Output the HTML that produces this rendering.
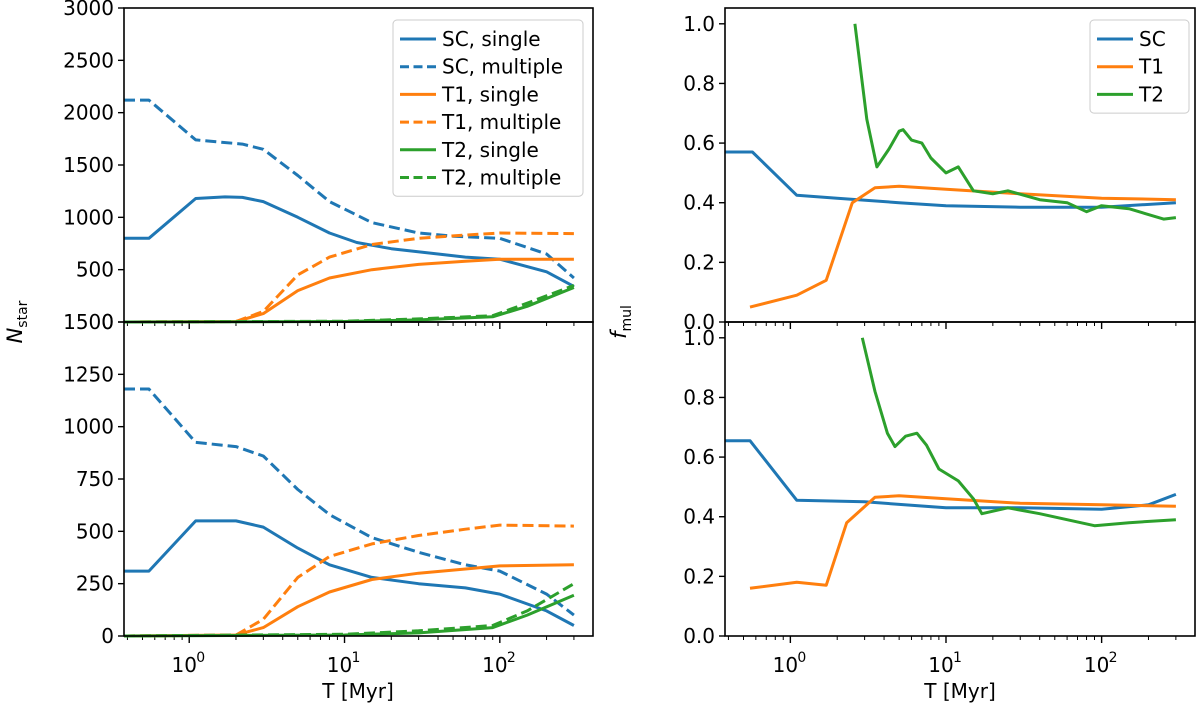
<!DOCTYPE html>
<html><head><meta charset="utf-8"><style>
body{margin:0;background:#fff}
svg{display:block;font-family:"DejaVu Sans","Liberation Sans",sans-serif}
</style></head><body>
<svg id="fig" width="1200" height="706" viewBox="0 0 1200 706"></svg>
<script>
// ---- data ----
const scSingleTopT=[0.38,0.55,1.1,1.7,2.2,3,5,8,12,20,40,60,100,200,300];
const scSingleTopN=[800,800,1180,1195,1190,1150,1000,850,760,700,650,620,600,480,340];
const scMultTopT=[0.38,0.55,1.1,2.2,3,5,8,15,30,50,100,200,300];
const scMultTopN=[2120,2120,1740,1700,1650,1400,1150,950,850,820,800,650,420];
const t1SingleTopT=[0.38,2,3,5,8,15,30,60,100,300];
const t1SingleTopN=[0,5,80,300,420,500,550,580,600,600];
const t1MultTopT=[0.38,2,3,5,8,15,30,60,100,300];
const t1MultTopN=[0,5,100,450,620,740,800,830,850,845];
const t2SingleTopT=[0.38,10,30,90,150,300];
const t2SingleTopN=[0,5,20,50,150,330];
const t2MultTopT=[0.38,10,30,90,150,300];
const t2MultTopN=[0,8,30,60,180,350];

const scSingleBotT=[0.38,0.55,1.1,2,3,5,8,15,30,60,100,200,300];
const scSingleBotN=[310,310,550,550,520,420,340,280,250,230,200,120,50];
const scMultBotT=[0.38,0.55,1.1,2,3,5,8,15,30,60,100,200,300];
const scMultBotN=[1180,1180,925,905,860,700,580,470,400,340,310,200,100];
const t1SingleBotT=[0.38,2,3,5,8,15,30,60,100,300];
const t1SingleBotN=[0,5,40,140,210,270,300,320,335,340];
const t1MultBotT=[0.38,2,3,5,8,15,30,60,100,300];
const t1MultBotN=[0,5,80,280,380,440,480,510,530,525];
const t2SingleBotT=[0.38,10,30,90,150,300];
const t2SingleBotN=[0,5,15,40,100,195];
const t2MultBotT=[0.38,10,30,90,150,300];
const t2MultBotN=[0,8,25,50,120,250];

const scFTopT=[0.38,0.57,1.1,2,5,10,30,100,300];
const scFTopV=[0.57,0.57,0.425,0.415,0.40,0.39,0.385,0.385,0.40];
const t1FTopT=[0.55,1.1,1.7,2.5,3.5,5,10,30,100,300];
const t1FTopV=[0.05,0.09,0.14,0.40,0.45,0.455,0.445,0.43,0.415,0.41];
const t2FTopT=[2.6,3.1,3.6,4.3,5,5.3,6,7,8,10,12,15,20,25,40,60,80,100,150,250,300];
const t2FTopV=[1.0,0.68,0.52,0.58,0.64,0.645,0.61,0.6,0.55,0.5,0.52,0.44,0.43,0.44,0.41,0.40,0.37,0.39,0.38,0.345,0.35];

const scFBotT=[0.38,0.55,1.1,3,10,30,100,200,300];
const scFBotV=[0.655,0.655,0.455,0.45,0.43,0.43,0.425,0.44,0.475];
const t1FBotT=[0.55,1.1,1.7,2.3,3.5,5,10,30,100,300];
const t1FBotV=[0.16,0.18,0.17,0.38,0.465,0.47,0.46,0.445,0.44,0.435];
const t2FBotT=[2.9,3.5,4.2,4.7,5.5,6.5,7.5,9,12,15,17,25,40,60,90,150,300];
const t2FBotV=[1.0,0.82,0.68,0.635,0.67,0.68,0.64,0.56,0.52,0.46,0.41,0.43,0.41,0.39,0.37,0.38,0.39];

const nTopTicks=[0,500,1000,1500,2000,2500,3000];
const nBotTicks=[0,250,500,750,1000,1250,1500];
const fTicks=[0,0.2,0.4,0.6,0.8,1.0];
const fTickLabels=["0.0","0.2","0.4","0.6","0.8","1.0"];

const BLUE="#1f77b4",ORANGE="#ff7f0e",GREEN="#2ca02c";
const NS="http://www.w3.org/2000/svg";
const svg=document.getElementById('fig');
function mk(tag,attrs,parent){const e=document.createElementNS(NS,tag);for(const k in attrs)e.setAttribute(k,attrs[k]);(parent||svg).appendChild(e);return e;}

function panel(name,x0,x1,y0,y1,ymin,ymax,ticks,labels,showX){
  const g=mk('g',{});
  
  
  const lx0=-0.42, lx1=2.6;
  const X=t=>x0+(Math.log10(t)-lx0)/(lx1-lx0)*(x1-x0);
  const Y=v=>y1-(v-ymin)/(ymax-ymin)*(y1-y0);
  ticks.forEach((v,i)=>{
    const y=Y(v);
    mk('line',{x1:x0-6,x2:x0,y1:y,y2:y,stroke:'#000','stroke-width':1.4},g);
    const t=mk('text',{x:x0-10,y:y+7,'text-anchor':'end','font-size':20},g);
    t.textContent=labels?labels[i]:String(v);
    
    
  });
  for(let d=-1;d<=2;d++){
    for(let m=1;m<10;m++){
      const v=m*Math.pow(10,d);const lv=Math.log10(v);
      if(lv<lx0||lv>lx1)continue;
      const x=X(v);
      mk('line',{x1:x,x2:x,y1:y1,y2:y1+(m===1?7:4),stroke:'#000','stroke-width':m===1?1.4:1},g);
      if(m===1&&showX){
        const t=mk('text',{x:x-5,y:y1+36,'text-anchor':'middle','font-size':20},g);
        t.textContent='10';
        
        
        const s=mk('text',{x:x+7,y:y1+26,'font-size':14},g);
        s.textContent=String(d);
      }
    }
  }
  g.X=X;g.Y=Y;g.box=[x0,x1,y0,y1];
  return g;
}
function series(g,name,T,V,color,dash){
  const pts=T.map((t,i)=>g.X(t).toFixed(1)+','+g.Y(V[i]).toFixed(1)).join(' ');
  const p=mk('polyline',{points:pts,fill:'none',stroke:color,'stroke-width':3,'stroke-linejoin':'round'},g);
  if(dash)p.setAttribute('stroke-dasharray','11,5');
  
  
}
function frame(g){const [x0,x1,y0,y1]=g.box;mk('rect',{x:x0,y:y0,width:x1-x0,height:y1-y0,fill:'none',stroke:'#000','stroke-width':1.6},g);}

const lt=panel('panel-nstar-top',124,593,8,322,0,3000,nTopTicks,null,false);
const lb=panel('panel-nstar-bottom',124,593,322,636,0,1500,nBotTicks,null,true);
const rt=panel('panel-fmul-top',725,1195,8,322,0,1.053,fTicks,fTickLabels,false);
const rb=panel('panel-fmul-bottom',725,1195,322,636,0,1.053,fTicks,fTickLabels,true);

series(lt,'sc-single-top',scSingleTopT,scSingleTopN,BLUE,false);
series(lt,'sc-multiple-top',scMultTopT,scMultTopN,BLUE,true);
series(lt,'t1-single-top',t1SingleTopT,t1SingleTopN,ORANGE,false);
series(lt,'t1-multiple-top',t1MultTopT,t1MultTopN,ORANGE,true);
series(lt,'t2-single-top',t2SingleTopT,t2SingleTopN,GREEN,false);
series(lt,'t2-multiple-top',t2MultTopT,t2MultTopN,GREEN,true);

series(lb,'sc-single-bottom',scSingleBotT,scSingleBotN,BLUE,false);
series(lb,'sc-multiple-bottom',scMultBotT,scMultBotN,BLUE,true);
series(lb,'t1-single-bottom',t1SingleBotT,t1SingleBotN,ORANGE,false);
series(lb,'t1-multiple-bottom',t1MultBotT,t1MultBotN,ORANGE,true);
series(lb,'t2-single-bottom',t2SingleBotT,t2SingleBotN,GREEN,false);
series(lb,'t2-multiple-bottom',t2MultBotT,t2MultBotN,GREEN,true);

series(rt,'sc-fmul-top',scFTopT,scFTopV,BLUE,false);
series(rt,'t1-fmul-top',t1FTopT,t1FTopV,ORANGE,false);
series(rt,'t2-fmul-top',t2FTopT,t2FTopV,GREEN,false);
series(rb,'sc-fmul-bottom',scFBotT,scFBotV,BLUE,false);
series(rb,'t1-fmul-bottom',t1FBotT,t1FBotV,ORANGE,false);
series(rb,'t2-fmul-bottom',t2FBotT,t2FBotV,GREEN,false);

[lt,lb,rt,rb].forEach(frame);

function legend(name,x,y,w,items){
  const g=mk('g',{});
  
  
  mk('rect',{x:x,y:y,width:w,height:items.length*27.7+10,rx:4,fill:'#fff','fill-opacity':0.85,stroke:'#ccc','stroke-width':1},g);
  items.forEach((it,i)=>{
    const cy=y+19+i*27.7;
    const l=mk('line',{x1:x+7,x2:x+43,y1:cy,y2:cy,stroke:it[1],'stroke-width':3},g);
    if(it[2])l.setAttribute('stroke-dasharray','9,4.5');
    const t=mk('text',{x:x+49,y:cy+7,'font-size':20},g);
    t.textContent=it[0];
    
    
  });
}
legend('legend-nstar',393,20,190,[['SC, single',BLUE,0],['SC, multiple',BLUE,1],['T1, single',ORANGE,0],['T1, multiple',ORANGE,1],['T2, single',GREEN,0],['T2, multiple',GREEN,1]]);
legend('legend-fmul',1090,20,99,[['SC',BLUE,0],['T1',ORANGE,0],['T2',GREEN,0]]);

function txt(name,s,x,y,size,extra){const t=mk('text',Object.assign({x:x,y:y,'font-size':size,'text-anchor':'middle'},extra||{}));t.innerHTML=s;return t;}
txt('x-axis-title-left','T [Myr]',358,698,20);
txt('x-axis-title-right','T [Myr]',960,698,20);
txt('y-axis-title-left','<tspan font-style="italic">N</tspan><tspan font-size="14" dy="5">star</tspan>',0,0,21,{transform:'translate(22,322) rotate(-90)'});
txt('y-axis-title-right','<tspan font-style="italic">f</tspan><tspan font-size="14" dy="5">mul</tspan>',0,0,21,{transform:'translate(626,322) rotate(-90)'});
</script>
</body></html>
